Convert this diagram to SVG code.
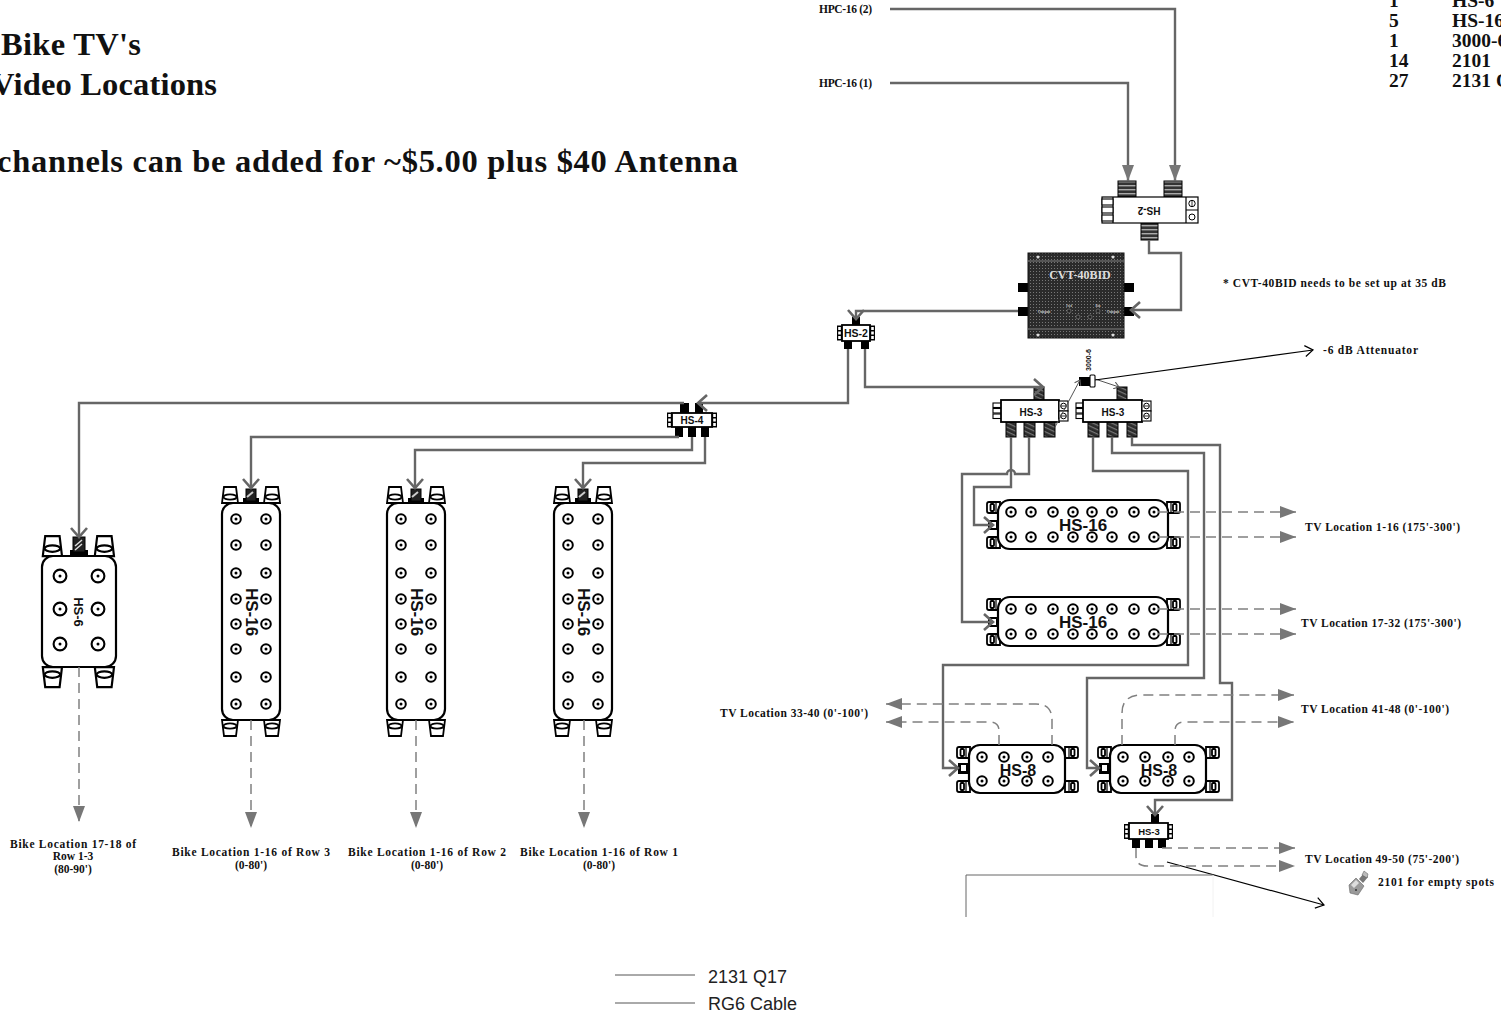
<svg xmlns="http://www.w3.org/2000/svg" width="1501" height="1021" viewBox="0 0 1501 1021">
<style>
text{font-family:"Liberation Serif",serif;font-weight:bold;fill:#111}
.t{font-size:32.500px}
.q{font-size:19.500px}
.l{font-size:11.500px}
.c{text-anchor:middle}
.a{font-family:"Liberation Sans",sans-serif}
.leg{font-family:"Liberation Sans",sans-serif;font-weight:normal;font-size:18px;fill:#222}
.w{fill:none;stroke:#666;stroke-width:2.400}
.d{fill:none;stroke:#808080;stroke-width:1.500;stroke-dasharray:10 6}
.b{fill:#fff;stroke:#000;stroke-width:2.200}
.b2{fill:#fff;stroke:#000;stroke-width:1.800}
.k{fill:#000}
.o{fill:#fff;stroke:#000;stroke-width:1.100}
.th{fill:url(#thread);stroke:#000;stroke-width:1}
.td{fill:url(#threadD);stroke:#000;stroke-width:1}
</style>
<defs>
<pattern id="thread" width="4" height="4" patternUnits="userSpaceOnUse"><rect width="4" height="4" fill="#333"/><rect y="1" width="4" height="1.400" fill="#aaa"/></pattern>
<pattern id="threadD" width="4" height="4" patternUnits="userSpaceOnUse" patternTransform="rotate(25)"><rect width="4" height="4" fill="#2a2a2a"/><rect y="1" width="4" height="1.200" fill="#777"/></pattern>
<pattern id="mesh" width="3" height="3" patternUnits="userSpaceOnUse"><rect width="3" height="3" fill="#2b2b2b"/><rect x="1" y="1" width="1" height="1" fill="#777"/></pattern>
<marker id="vee" markerUnits="userSpaceOnUse" markerWidth="15" markerHeight="20" refX="13" refY="10" orient="auto"><path d="M4 2L13 10L4 18" fill="none" stroke="#666" stroke-width="2.600"/></marker>
<marker id="tri" markerUnits="userSpaceOnUse" markerWidth="16" markerHeight="12" refX="16" refY="6" orient="auto"><path d="M0 0L16 6L0 12Z" fill="#777"/></marker>
<marker id="veeK" markerUnits="userSpaceOnUse" markerWidth="12" markerHeight="14" refX="11" refY="7" orient="auto"><path d="M3 1.500L11 7L3 12.500" fill="none" stroke="#000" stroke-width="1.200"/></marker>
<marker id="veeS" markerUnits="userSpaceOnUse" markerWidth="7" markerHeight="8" refX="6" refY="4" orient="auto"><path d="M1 .5L6 4L1 7.500" fill="none" stroke="#555" stroke-width="1"/></marker>
<g id="port"><circle r="4.800" fill="#fff" stroke="#000" stroke-width="2"/><circle r="1.500" fill="#000"/></g>
<g id="portL"><circle r="6.400" fill="#fff" stroke="#000" stroke-width="2.100"/><circle r="1.500" fill="#000"/></g>
<g id="tabV"><path class="b2" d="M1 0H13L15 16H-1Z"/><ellipse class="b2" cx="7" cy="10" rx="6.500" ry="2.600"/></g>
<g id="tabH"><path class="b2" d="M13 0H2Q0 0 0 2V9Q0 11 2 11H13Z"/><rect class="b2" x="3.500" y="2" width="3.500" height="7" rx="1"/><path d="M9 1V10" stroke="#000" stroke-width="1.200"/></g>
<g id="combL"><rect class="o" width="9" height="4.500"/><rect class="o" y="5.500" width="9" height="4.500"/><rect class="o" y="11" width="9" height="4.500"/></g>
<g id="vs16">
<use href="#tabV" x="223" y="487"/><use href="#tabV" x="265" y="487"/>
<use href="#tabV" transform="translate(223 736) scale(1 -1)"/><use href="#tabV" transform="translate(265 736) scale(1 -1)"/>
<rect class="k" x="243" y="498" width="16" height="5"/><rect x="246" y="489" width="10" height="12" fill="#222" stroke="#000"/><path d="M247 497l6-5" stroke="#ccc" stroke-width="2"/>
<rect class="b" x="222" y="503" width="58" height="217" rx="11"/>
<use href="#port" x="236" y="519"/><use href="#port" x="266" y="519"/><use href="#port" x="236" y="545"/><use href="#port" x="266" y="545"/>
<use href="#port" x="236" y="573"/><use href="#port" x="266" y="573"/><use href="#port" x="236" y="599"/><use href="#port" x="266" y="599"/>
<use href="#port" x="236" y="624"/><use href="#port" x="266" y="624"/><use href="#port" x="236" y="649"/><use href="#port" x="266" y="649"/>
<use href="#port" x="236" y="677"/><use href="#port" x="266" y="677"/><use href="#port" x="236" y="704"/><use href="#port" x="266" y="704"/>
</g>
<g id="hs16h">
<use href="#tabH" x="987" y="502"/><use href="#tabH" x="987" y="537"/>
<use href="#tabH" transform="translate(1180 502) scale(-1 1)"/><use href="#tabH" transform="translate(1180 537) scale(-1 1)"/>
<rect class="k" x="988" y="520" width="12" height="10"/><rect x="991" y="522" width="5" height="6" fill="#fff"/>
<rect class="b" x="998" y="500" width="170" height="49" rx="12"/>
<use href="#port" x="1011" y="512"/><use href="#port" x="1031" y="512"/><use href="#port" x="1053" y="512"/><use href="#port" x="1073" y="512"/><use href="#port" x="1092" y="512"/><use href="#port" x="1112" y="512"/><use href="#port" x="1134" y="512"/><use href="#port" x="1154" y="512"/>
<use href="#port" x="1011" y="537"/><use href="#port" x="1031" y="537"/><use href="#port" x="1053" y="537"/><use href="#port" x="1073" y="537"/><use href="#port" x="1092" y="537"/><use href="#port" x="1112" y="537"/><use href="#port" x="1134" y="537"/><use href="#port" x="1154" y="537"/>
</g>
<g id="hs8h">
<use href="#tabH" x="957" y="747"/><use href="#tabH" x="957" y="781"/>
<use href="#tabH" transform="translate(1078 747) scale(-1 1)"/><use href="#tabH" transform="translate(1078 781) scale(-1 1)"/>
<rect class="k" x="958" y="763" width="13" height="11"/><rect x="961" y="765" width="5" height="6" fill="#fff"/>
<rect class="b" x="969" y="745" width="96" height="48" rx="11"/>
<use href="#port" x="982" y="757"/><use href="#port" x="1004" y="757"/><use href="#port" x="1027" y="757"/><use href="#port" x="1048" y="757"/>
<use href="#port" x="982" y="781"/><use href="#port" x="1004" y="781"/><use href="#port" x="1027" y="781"/><use href="#port" x="1048" y="781"/>
</g>
<g id="miniTabs">
<rect class="k" x="0" y="0" width="5" height="15"/><rect x="1.200" y="1.500" width="2.600" height="3" fill="#fff"/><rect x="1.200" y="6" width="2.600" height="3" fill="#fff"/><rect x="1.200" y="10.500" width="2.600" height="3" fill="#fff"/>
</g>
<g id="rightBox"><rect class="o" width="9" height="10"/><circle cx="4.500" cy="5" r="2.800" fill="#fff" stroke="#000"/><path d="M2 5H7" stroke="#000" stroke-width=".8"/></g>
</defs>
<rect width="1501" height="1021" fill="#fff"/>

<g id="title">
<text class="t" x="1" y="55" textLength="140">Bike TV's</text>
<text class="t" x="-9" y="95" textLength="226">Video Locations</text>
<text class="t" x="-3" y="172" textLength="741">channels can be added for ~$5.00 plus $40 Antenna</text>
</g>
<g id="parts">
<text class="q" x="1389" y="7">1</text><text class="q" x="1452" y="7">HS-6</text>
<text class="q" x="1389" y="27">5</text><text class="q" x="1452" y="27">HS-16</text>
<text class="q" x="1389" y="47">1</text><text class="q" x="1452" y="47">3000-6</text>
<text class="q" x="1389" y="67">14</text><text class="q" x="1452" y="67">2101</text>
<text class="q" x="1389" y="87">27</text><text class="q" x="1452" y="87">2131 Q17</text>
</g>

<g id="n-hs2-top">
<rect class="th" x="1118" y="181" width="18" height="16"/><rect class="th" x="1164" y="181" width="18" height="16"/><rect class="th" x="1141" y="223" width="17" height="17"/>
<rect x="1102" y="197" width="96" height="26" fill="#fff" stroke="#000" stroke-width="1.200"/>
<path d="M1113 197V223M1186 197V223M1186 210H1198" stroke="#000" stroke-width="1.200"/>
<rect class="o" x="1102" y="199" width="11" height="6"/><rect class="o" x="1102" y="207" width="11" height="6"/><rect class="o" x="1102" y="215" width="11" height="6"/>
<circle cx="1192" cy="203.500" r="3.200" fill="#fff" stroke="#000"/><path d="M1192 200V207" stroke="#000" stroke-width=".8"/>
<circle cx="1192" cy="217" r="3" fill="#fff" stroke="#000"/>
<text class="a c" font-size="10" transform="rotate(180 1149 210)" x="1149" y="213.500">HS-2</text>
</g>
<g id="n-cvt">
<rect class="k" x="1018" y="283" width="11" height="9"/><rect class="k" x="1018" y="307" width="11" height="9"/><rect class="k" x="1123" y="283" width="11" height="9"/><rect class="k" x="1123" y="307" width="11" height="9"/>
<rect x="1028" y="253" width="96" height="85" fill="url(#mesh)" stroke="#111"/>
<path d="M1028 261H1124M1028 329H1124" stroke="#555" stroke-width="2"/>
<circle cx="1038" cy="257" r="1.500" fill="#ddd"/><circle cx="1113" cy="257" r="1.500" fill="#ddd"/><circle cx="1038" cy="335" r="1.500" fill="#ddd"/><circle cx="1113" cy="335" r="1.500" fill="#ddd"/>
<circle cx="1069" cy="311" r="2" fill="#222" stroke="#888" stroke-width=".6"/><circle cx="1098" cy="311" r="2" fill="#222" stroke="#888" stroke-width=".6"/><circle cx="1078" cy="317" r="2" fill="#222" stroke="#888" stroke-width=".6"/><circle cx="1090" cy="317" r="2" fill="#222" stroke="#888" stroke-width=".6"/>
<text x="1080" y="279" font-size="12" class="c" style="fill:#ddd">CVT-40BID</text>
<text x="1044" y="313" font-size="4" class="c" style="fill:#ccc">Output</text>
<text x="1113" y="313" font-size="4" class="c" style="fill:#ccc">Output</text>
<text x="1069" y="307" font-size="3" class="c" style="fill:#ccc">Fwd</text>
<text x="1098" y="307" font-size="3" class="c" style="fill:#ccc">Rtn</text>
</g>
<g id="n-hs2-small">
<rect class="k" x="852" y="317" width="8" height="8"/><rect class="k" x="844" y="341" width="8" height="8"/><rect class="k" x="861" y="341" width="8" height="8"/>
<use href="#miniTabs" x="837" y="325.500"/><use href="#miniTabs" x="870" y="325.500"/>
<rect class="b2" x="842" y="325" width="28" height="16"/>
<text class="a c" font-size="10.500" x="856" y="336.500">HS-2</text>
</g>
<g id="n-hs4">
<rect class="k" x="680" y="403" width="9" height="10"/><rect class="k" x="695" y="403" width="8" height="10"/>
<rect class="k" x="675" y="427" width="8" height="10"/><rect class="k" x="688" y="427" width="8" height="10"/><rect class="k" x="701" y="427" width="8" height="10"/>
<use href="#miniTabs" x="667" y="412.500"/><use href="#miniTabs" x="712" y="412.500"/>
<rect class="b2" x="672" y="413" width="40" height="14"/>
<text class="a c" font-size="10" x="692" y="424">HS-4</text>
</g>
<g id="n-hs3-a">
<rect class="td" x="1034" y="387" width="10" height="13"/>
<rect class="td" x="1006" y="422" width="10" height="15"/><rect class="td" x="1024" y="422" width="11" height="15"/><rect class="td" x="1044" y="422" width="11" height="15"/>
<use href="#combL" x="993" y="403"/>
<rect class="b2" x="1001" y="400" width="58" height="22"/>
<use href="#rightBox" x="1059" y="401"/><use href="#rightBox" x="1059" y="411"/>
<text class="a c" font-size="10" x="1031" y="416">HS-3</text>
</g>
<g id="n-hs3-b">
<rect class="td" x="1117" y="387" width="10" height="13"/>
<rect class="td" x="1088" y="422" width="11" height="15"/><rect class="td" x="1107" y="422" width="11" height="15"/><rect class="td" x="1127" y="422" width="10" height="15"/>
<use href="#combL" x="1076" y="403"/>
<rect class="b2" x="1083" y="400" width="59" height="22"/>
<use href="#rightBox" x="1142" y="401"/><use href="#rightBox" x="1142" y="411"/>
<text class="a c" font-size="10" x="1113" y="416">HS-3</text>
</g>
<g id="n-3000-6">
<rect class="k" x="1079" y="377" width="11" height="9"/><rect class="o" x="1090" y="375" width="5" height="12" rx="1"/>
<text class="a c" font-size="7" transform="rotate(-90 1091 360)" x="1091" y="360">3000-6</text>
</g>
<g id="n-hs6">
<use href="#tabV" transform="translate(44 536) scale(1.200 1.250)"/><use href="#tabV" transform="translate(96 536) scale(1.200 1.250)"/>
<use href="#tabV" transform="translate(44 687) scale(1.200 -1.250)"/><use href="#tabV" transform="translate(96 687) scale(1.200 -1.250)"/>
<rect class="k" x="70" y="550" width="18" height="6"/><rect x="73" y="537" width="12" height="15" fill="#222" stroke="#000"/><path d="M75 546l7-6M75 550l7-6" stroke="#ddd" stroke-width="1.500"/>
<rect class="b" x="42" y="556" width="74" height="111" rx="11"/>
<use href="#portL" x="60" y="576"/><use href="#portL" x="98" y="576"/><use href="#portL" x="60" y="609"/><use href="#portL" x="98" y="609"/><use href="#portL" x="60" y="644"/><use href="#portL" x="98" y="644"/>
<text class="a c" font-size="13" transform="rotate(90 78 612)" x="78" y="616.500">HS-6</text>
</g>
<g id="n-hs16-v3"><use href="#vs16"/><text class="a c" font-size="17" transform="rotate(90 252 612)" x="252" y="618">HS-16</text></g>
<g id="n-hs16-v2"><use href="#vs16" x="165"/><text class="a c" font-size="17" transform="rotate(90 417 612)" x="417" y="618">HS-16</text></g>
<g id="n-hs16-v1"><use href="#vs16" x="332"/><text class="a c" font-size="17" transform="rotate(90 584 612)" x="584" y="618">HS-16</text></g>
<g id="n-hs16-h1"><use href="#hs16h"/><text class="a c" font-size="17" x="1083" y="531">HS-16</text></g>
<g id="n-hs16-h2"><use href="#hs16h" y="97"/><text class="a c" font-size="17" x="1083" y="628">HS-16</text></g>
<g id="n-hs8-1"><use href="#hs8h"/><text class="a c" font-size="16" x="1018" y="776">HS-8</text></g>
<g id="n-hs8-2"><use href="#hs8h" x="141"/><text class="a c" font-size="16" x="1159" y="776">HS-8</text></g>
<g id="n-hs3-c">
<rect class="k" x="1151" y="814" width="8" height="9"/>
<rect class="k" x="1132" y="839" width="8" height="9"/><rect class="k" x="1145" y="839" width="8" height="9"/><rect class="k" x="1158" y="839" width="8" height="9"/>
<use href="#miniTabs" x="1124" y="824"/><use href="#miniTabs" x="1168" y="824"/>
<rect class="b2" x="1129" y="823" width="39" height="16"/>
<text class="a c" font-size="9.500" x="1149" y="835">HS-3</text>
</g>
<g id="n-2101">
<path d="M1349 885L1356 878L1364 886L1358 895L1350 893Z" fill="#9a9a9a" stroke="#666" stroke-width=".6"/>
<path d="M1359 879L1364 873L1368 877L1363 883Z" fill="#777"/>
<path d="M1364 871L1368 874L1367 878L1362 875Z" fill="#bbb" stroke="#555" stroke-width=".5"/>
<path d="M1351 885L1356 880L1359 883L1354 888Z" fill="#ddd"/><circle cx="1356" cy="890" r="1" fill="#333"/>
</g>

<g id="connectors">
<path class="w" marker-end="url(#tri)" d="M890 9H1175V181"/>
<path class="w" marker-end="url(#tri)" d="M890 83H1128V181"/>
<path class="w" marker-end="url(#vee)" d="M1149 240V253H1181V310H1131"/>
<path class="w" marker-end="url(#vee)" d="M1018 311H856V319"/>
<path class="w" marker-end="url(#vee)" d="M848 349V403H698"/>
<path class="w" marker-end="url(#vee)" d="M865 349V387H1043"/>
<path class="w" marker-end="url(#vee)" d="M684 403H79V537"/>
<path class="w" marker-end="url(#vee)" d="M679 437H251V488"/>
<path class="w" marker-end="url(#vee)" d="M692 437V450H415V488"/>
<path class="w" marker-end="url(#vee)" d="M705 437V463H583V488"/>
<path class="w" marker-end="url(#vee)" d="M1011 437V487H974V525H993"/>
<path class="w" marker-end="url(#vee)" d="M1029 437V474H1015A4 4 0 0 0 1007 474H962V622H993"/>
<path class="w" marker-end="url(#vee)" d="M1093 437V471H1188V665H943V768H958"/>
<path class="w" marker-end="url(#vee)" d="M1112 437V453H1204V678H1087V768H1099"/>
<path class="w" marker-end="url(#vee)" d="M1132 437V445H1220V683H1232V800H1155V815"/>
<path fill="none" stroke="#555" stroke-width="1" marker-end="url(#veeS)" d="M1055 427L1080 380"/>
<path fill="none" stroke="#555" stroke-width="1" marker-end="url(#veeS)" d="M1095 379L1119 387"/>
<path fill="none" stroke="#000" stroke-width="1.200" marker-end="url(#veeK)" d="M1095 380L1313 350"/>
<path fill="none" stroke="#000" stroke-width="1.200" marker-end="url(#veeK)" d="M1167 862L1324 905"/>
<path class="d" marker-end="url(#tri)" d="M79 667V822"/>
<path class="d" marker-end="url(#tri)" d="M251 720V828"/>
<path class="d" marker-end="url(#tri)" d="M416 720V828"/>
<path class="d" marker-end="url(#tri)" d="M584 720V828"/>
<path class="d" marker-end="url(#tri)" d="M1158 512H1296"/>
<path class="d" marker-end="url(#tri)" d="M1158 537H1296"/>
<path class="d" marker-end="url(#tri)" d="M1158 609H1296"/>
<path class="d" marker-end="url(#tri)" d="M1158 634H1296"/>
<path class="d" marker-end="url(#tri)" d="M1052 745V720Q1052 704 1036 704H886"/>
<path class="d" marker-end="url(#tri)" d="M999 745V731Q999 722 990 722H886"/>
<path class="d" marker-end="url(#tri)" d="M1122 745V713Q1122 695 1142 695H1294"/>
<path class="d" marker-end="url(#tri)" d="M1175 745V731Q1175 722 1184 722H1294"/>
<path class="d" marker-end="url(#tri)" d="M1162 848H1295"/>
<path class="d" marker-end="url(#tri)" d="M1136 848V856Q1136 866 1147 866H1295"/>
<path fill="none" stroke="#666" stroke-width="1" d="M966 917V875H1213"/>
<path fill="none" stroke="#f2f2f2" stroke-width="1" d="M1213 875V917"/>
<path fill="none" stroke="#555" stroke-width="1" d="M615 975H695M615 1003H695"/>
</g>

<g id="labels">
<text class="l" x="819" y="13" textLength="53">HPC-16 (2)</text>
<text class="l" x="819" y="87" textLength="53">HPC-16 (1)</text>
<text class="l" x="1223" y="287" textLength="223">* CVT-40BID needs to be set up at 35 dB</text>
<text class="l" x="1323" y="354" textLength="95">-6 dB Attenuator</text>
<text class="l" x="1305" y="531" textLength="155">TV Location 1-16 (175'-300')</text>
<text class="l" x="1301" y="627" textLength="160">TV Location 17-32 (175'-300')</text>
<text class="l" x="1301" y="713" textLength="148">TV Location 41-48 (0'-100')</text>
<text class="l" x="720" y="717" textLength="148">TV Location 33-40 (0'-100')</text>
<text class="l" x="1305" y="863" textLength="154">TV Location 49-50 (75'-200')</text>
<text class="l" x="1378" y="886" textLength="116">2101 for empty spots</text>
<text class="l" x="10" y="848" textLength="126">Bike Location 17-18 of</text>
<text class="l c" x="73" y="860">Row 1-3</text>
<text class="l c" x="73" y="873">(80-90')</text>
<text class="l" x="172" y="856" textLength="158">Bike Location 1-16 of Row 3</text>
<text class="l c" x="251" y="869">(0-80')</text>
<text class="l" x="348" y="856" textLength="158">Bike Location 1-16 of Row 2</text>
<text class="l c" x="427" y="869">(0-80')</text>
<text class="l" x="520" y="856" textLength="158">Bike Location 1-16 of Row 1</text>
<text class="l c" x="599" y="869">(0-80')</text>
<text class="leg" x="708" y="983">2131 Q17</text>
<text class="leg" x="708" y="1010">RG6 Cable</text>
</g>
</svg>
